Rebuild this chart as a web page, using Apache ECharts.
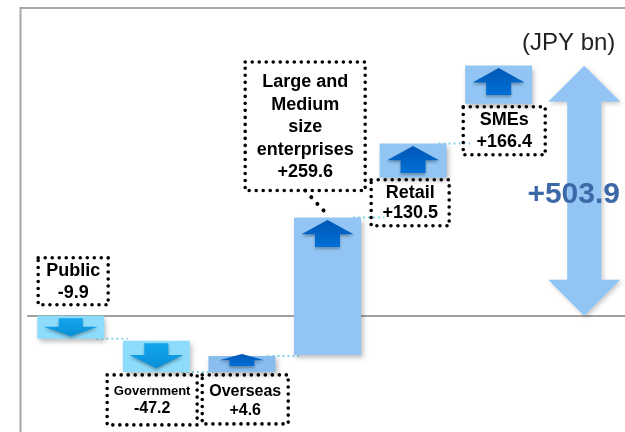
<!DOCTYPE html>
<html>
<head>
<meta charset="utf-8">
<script src="https://cdn.jsdelivr.net/npm/echarts@6/dist/echarts.min.js"></script>
<style>
html,body{margin:0;padding:0;background:#fff;}
#c{width:625px;height:432px;}
</style>
</head>
<body>
<div id="c"></div>
<script>
// ---- data ----
const categories = ['Public', 'Government', 'Overseas', 'Large and\nMedium\nsize\nenterprises', 'Retail', 'SMEs', 'Total'];
const changes = [-9.9, -47.2, 4.6, 259.6, 130.5, 166.4];   // JPY bn, as labelled
const totalChange = 503.9;
// bar extents as drawn in the (schematic, not-to-scale) picture, in axis units
const barTop = [0, -50, -81, 198, 347, 504];
const barBottom = [-46, -113, -113, -79, 278, 427];
const unitLabel = '(JPY bn)';

// ---- style / layout (not data) ----
const FF = 'Arial, "Liberation Sans", Helvetica, sans-serif';
const barColors = ['#8ddcfb', '#8ddcfb', '#88bdee', '#92c5f3', '#92c5f3', '#92c5f3'];
const boxLayout = [
  {side: 'above', gap: 11, dx: 2.4,   w: 70,  pad: [2, 0, 1, 0], t: 18, v: 18, lh: 22},
  {side: 'below', gap: 3,  dx: -4.2,  w: 90,  pad: [8, 0, 8, 0], t: 13, v: 16, lh: 17},
  {side: 'below', gap: 3,  dx: 3.3,   w: 86,  pad: [7, 0, 4, 0], t: 16, v: 16, lh: 19},
  {side: 'above', gap: 27, dx: -22.3, w: 120, pad: [9, 0, 7, 0], t: 18, v: 18, lh: 22.5, leader: true},
  {side: 'below', gap: 2,  dx: -2.9,  w: 78,  pad: [3, 0, 3, 0], t: 18, v: 18, lh: 20},
  {side: 'below', gap: 3,  dx: 5.6,   w: 82,  pad: [2, 0, 2, 0], t: 18, v: 18, lh: 22}
];
const BAR_W = 67;
const dotStyle = {stroke: '#000', lineWidth: 3.6, lineDash: [0.01, 7], lineCap: 'round', fill: null};

function fmt(v) { return (v > 0 ? '+' : '') + v.toFixed(1); }

const barData = changes.map((c, i) => [i, barTop[i], barBottom[i], c]);
const connData = changes.slice(0, changes.length - 1).map((c, i) => [i, c < 0 ? barBottom[i] : barTop[i]]);

const upGrad = new echarts.graphic.LinearGradient(0, 0, 0, 1, [
  {offset: 0, color: '#0057b4'}, {offset: 1, color: '#0070d8'}
]);
const downGrad = new echarts.graphic.LinearGradient(0, 0, 0, 1, [
  {offset: 0, color: '#12a6ee'}, {offset: 1, color: '#0a8fd6'}
]);

function renderBar(params, api) {
  const i = params.dataIndex;
  const top = api.value(1), bot = api.value(2), chg = api.value(3);
  const pT = api.coord([i, top]), pB = api.coord([i, bot]);
  const cx = pT[0], h = pB[1] - pT[1];
  const children = [];
  children.push({
    type: 'rect',
    shape: {x: cx - BAR_W / 2, y: pT[1], width: BAR_W, height: h},
    style: {fill: barColors[i], shadowBlur: 5, shadowOffsetX: 2, shadowOffsetY: 3, shadowColor: 'rgba(0,0,0,0.28)'}
  });
  let pts, fill;
  if (chg > 0) {
    const small = h < 20;
    const y0 = pT[1] + (small ? -2 : 2.5);
    const len = Math.min(h - 4, 27);
    const hh = len * 0.53, hw = small ? 22.5 : 26, sw = 12.5;
    pts = [[cx, y0], [cx + hw, y0 + hh], [cx + sw, y0 + hh], [cx + sw, y0 + len],
           [cx - sw, y0 + len], [cx - sw, y0 + hh], [cx - hw, y0 + hh]];
    fill = upGrad;
  } else {
    const y0 = pT[1] + 2.5;
    const len = Math.min(h - 5, 25);
    const sh = len * 0.47, hw = 27, sw = 12;
    pts = [[cx - sw, y0], [cx + sw, y0], [cx + sw, y0 + sh], [cx + hw, y0 + sh],
           [cx, y0 + len], [cx - hw, y0 + sh], [cx - sw, y0 + sh]];
    fill = downGrad;
  }
  children.push({
    type: 'polygon', shape: {points: pts},
    style: {fill: fill, shadowBlur: 3, shadowOffsetY: 2, shadowColor: 'rgba(0,0,0,0.3)'}
  });
  const L = boxLayout[i];
  const lines = categories[i].split('\n');
  const text = lines.map(s => '{t|' + s + '}').join('\n') + '\n{v|' + fmt(chg) + '}';
  const boxH = (lines.length + 1) * L.lh + L.pad[0] + L.pad[2];
  const bx = cx + L.dx;
  const by = L.side === 'above' ? pT[1] - L.gap : pB[1] + L.gap;
  const boxTop = L.side === 'above' ? by - boxH : by;
  children.push({
    type: 'rect',
    shape: {x: bx - L.w / 2, y: boxTop, width: L.w, height: boxH},
    style: dotStyle
  });
  children.push({
    type: 'text', x: bx, y: boxTop,
    style: {
      text: text,
      rich: {
        t: {fontSize: L.t, fontWeight: 'bold', fontFamily: FF, lineHeight: L.lh, fill: '#000'},
        v: {fontSize: L.v, fontWeight: 'bold', fontFamily: FF, lineHeight: L.lh, fill: '#000'}
      },
      align: 'center',
      verticalAlign: 'top',
      width: L.w,
      padding: L.pad,
      fill: '#000'
    }
  });
  if (L.leader) {
    children.push({
      type: 'line',
      shape: {x1: bx, y1: boxTop + boxH, x2: cx - 3, y2: pT[1] - 6},
      style: {stroke: '#000', lineWidth: 4, lineDash: [0.01, 9], lineCap: 'round'}
    });
  }
  return {type: 'group', children: children};
}

function renderConn(params, api) {
  const i = api.value(0), lvl = api.value(1);
  const a = api.coord([i, lvl]), b = api.coord([i + 1, lvl]);
  return {
    type: 'line',
    shape: {x1: a[0] + BAR_W / 2 - 8, y1: a[1], x2: b[0] - BAR_W / 2 + 5, y2: a[1]},
    style: {stroke: '#86d6ee', lineWidth: 2, lineDash: [2, 3]}
  };
}

function renderTotal(params, api) {
  const i = api.value(0);
  const pT = api.coord([i, api.value(2)]), pB = api.coord([i, api.value(1)]);
  const cx = pT[0], yT = pT[1], yB = pB[1];
  const hh = 36, hw = 36, sw = 17;
  const pts = [[cx, yT], [cx + hw, yT + hh], [cx + sw, yT + hh], [cx + sw, yB - hh], [cx + hw, yB - hh],
               [cx, yB], [cx - hw, yB - hh], [cx - sw, yB - hh], [cx - sw, yT + hh], [cx - hw, yT + hh]];
  const mid = api.coord([i, api.value(2) / 2]);
  return {
    type: 'group',
    children: [
      {type: 'polygon', shape: {points: pts},
       style: {fill: '#92c5f3', shadowBlur: 4, shadowOffsetX: 2, shadowOffsetY: 2, shadowColor: 'rgba(0,0,0,0.2)'}},
      {type: 'text', x: cx - 10.5, y: mid[1] + 4,
       style: {text: fmt(api.value(2)), fontSize: 30, fontWeight: 'bold', fontFamily: FF,
               fill: '#3d69a8', align: 'center', verticalAlign: 'middle'}}
    ]
  };
}

const chart = echarts.init(document.getElementById('c'), null, {renderer: 'canvas'});
chart.setOption({
  animation: false,
  backgroundColor: '#fff',
  title: {
    text: unitLabel, left: 522, top: 31, padding: 0,
    textStyle: {fontSize: 24, fontWeight: 'normal', color: '#222', fontFamily: FF}
  },
  grid: {left: 28, right: -2, top: 8, bottom: 2, containLabel: false, outerBoundsMode: 'none'},
  xAxis: {
    type: 'category', data: categories,
    axisLine: {show: true, onZero: true, lineStyle: {color: '#a0a0a0', width: 2}},
    axisTick: {show: false}, axisLabel: {show: false}, splitLine: {show: false}
  },
  yAxis: {
    type: 'value', min: -230, max: 620, show: false,
    splitLine: {show: false}
  },
  graphic: [{
    type: 'polyline', silent: true, z: 100,
    shape: {points: [[20.5, 432], [20.5, 8], [626, 8]]},
    style: {stroke: '#a6a6a6', lineWidth: 2, fill: null}
  }],
  series: [
    {type: 'custom', name: 'connectors', z: 1, renderItem: renderConn, data: connData, silent: true},
    {type: 'custom', name: 'changes', z: 2, renderItem: renderBar, data: barData, silent: true},
    {type: 'custom', name: 'total', z: 2, renderItem: renderTotal, data: [[6, 0, totalChange]], silent: true}
  ]
});
</script>
</body>
</html>
